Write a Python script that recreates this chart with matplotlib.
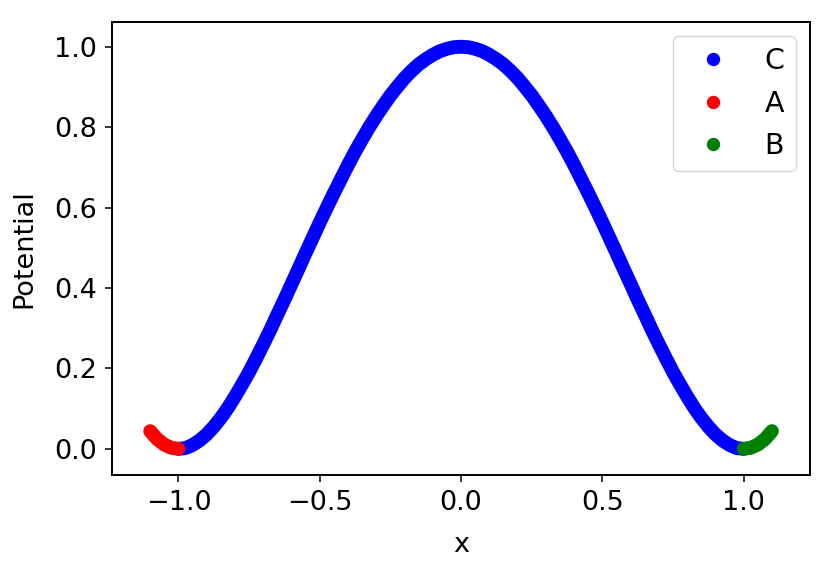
import numpy as np
import matplotlib.pyplot as plt
from matplotlib.lines import Line2D

# values
x_c = [-1.0, -0.975, -0.95, -0.925, -0.9, -0.875, -0.85, -0.825, -0.8, -0.775,
       -0.75, -0.725, -0.7, -0.675, -0.65, -0.625, -0.6, -0.575, -0.55, -0.525,
       -0.5, -0.475, -0.45, -0.425, -0.4, -0.375, -0.35, -0.325, -0.3, -0.275,
       -0.25, -0.225, -0.2, -0.175, -0.15, -0.125, -0.1, -0.075, -0.05, -0.025,
       0.0, 0.025, 0.05, 0.075, 0.1, 0.125, 0.15, 0.175, 0.2, 0.225,
       0.25, 0.275, 0.3, 0.325, 0.35, 0.375, 0.4, 0.425, 0.45, 0.475,
       0.5, 0.525, 0.55, 0.575, 0.6, 0.625, 0.65, 0.675, 0.7, 0.725,
       0.75, 0.775, 0.8, 0.825, 0.85, 0.875, 0.9, 0.925, 0.95, 0.975, 1.0]
y_c = [0.0, 0.002, 0.0095, 0.021, 0.036, 0.055, 0.077, 0.102, 0.130, 0.160,
       0.191, 0.225, 0.260, 0.296, 0.334, 0.371, 0.410, 0.448, 0.487, 0.525,
       0.563, 0.600, 0.636, 0.671, 0.706, 0.739, 0.770, 0.800, 0.828, 0.854,
       0.879, 0.901, 0.922, 0.940, 0.956, 0.969, 0.980, 0.989, 0.995, 0.999,
       1.0, 0.999, 0.995, 0.989, 0.980, 0.969, 0.956, 0.940, 0.922, 0.901,
       0.879, 0.854, 0.828, 0.800, 0.770, 0.739, 0.706, 0.671, 0.636, 0.600,
       0.563, 0.525, 0.487, 0.448, 0.410, 0.371, 0.334, 0.296, 0.260, 0.225,
       0.191, 0.160, 0.130, 0.102, 0.077, 0.055, 0.036, 0.021, 0.0095, 0.002, 0.0]
x_a = [-1.1, -1.075, -1.05, -1.025, -1.0]
y_a = [0.044, 0.024, 0.0105, 0.0026, 0.0]
x_b = [1.0, 1.025, 1.05, 1.075, 1.1]
y_b = [0.0, 0.0026, 0.0105, 0.024, 0.044]

fs = 19.5
fig = plt.figure(figsize=(8.33, 5.7), dpi=100)
ax = fig.add_axes([0.1345, 0.1667, 0.838, 0.795])

lw = 10
handles = []
for xs, ys, col, lab in [(x_c, y_c, 'blue', 'C'), (x_a, y_a, 'red', 'A'), (x_b, y_b, 'green', 'B')]:
    ax.plot(xs, ys, color=col, lw=lw, solid_capstyle='round', solid_joinstyle='round')
    handles.append(Line2D([], [], ls='', marker='o', color=col, markersize=8.6, label=lab))

ax.set_xlim(-1.235, 1.235)
ax.set_ylim(-0.065, 1.062)
ax.set_xticks([-1.0, -0.5, 0.0, 0.5, 1.0])
ax.set_yticks([0.0, 0.2, 0.4, 0.6, 0.8, 1.0])
ax.tick_params(labelsize=fs, length=5, width=1.1, pad=6)
for sp in ax.spines.values():
    sp.set_linewidth(1.4)
ax.set_xlabel('x', fontsize=fs, labelpad=11)
ax.set_ylabel('Potential', fontsize=fs, labelpad=12)
ax.legend(handles=handles, fontsize=20.5, loc='upper right')

plt.savefig('out.png', dpi=100)
